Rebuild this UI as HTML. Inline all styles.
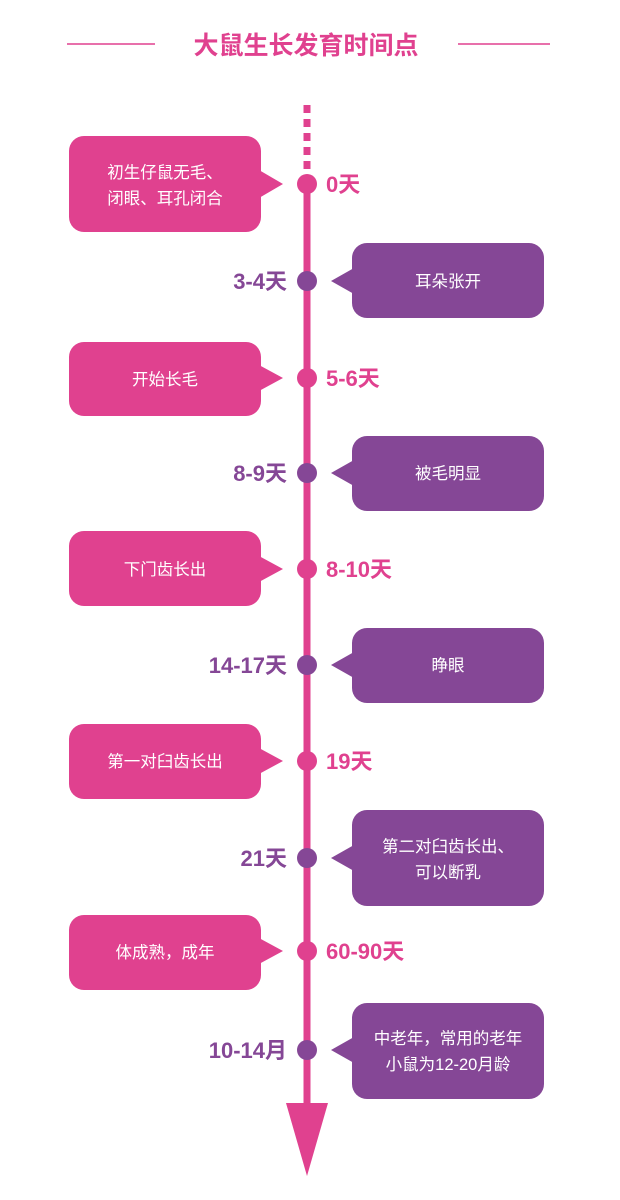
<!DOCTYPE html>
<html><head><meta charset="utf-8"><style>
html,body{margin:0;padding:0;background:#fff;}
svg{display:block;}
text{font-family:"Liberation Sans","Noto Sans CJK SC",sans-serif;}
.bt{fill:#fff;font-size:16.5px;text-anchor:middle;}
.lp{fill:#e0418f;font-size:22px;font-weight:bold;}
.lu{fill:#854796;font-size:22px;font-weight:bold;text-anchor:end;}
</style></head><body>
<svg width="620" height="1200" viewBox="0 0 620 1200" xmlns="http://www.w3.org/2000/svg">
<line x1="67" y1="44" x2="155" y2="44" stroke="#e0418f" stroke-width="1.5"/>
<line x1="458" y1="44" x2="550" y2="44" stroke="#e0418f" stroke-width="1.5"/>
<text x="306" y="54" text-anchor="middle" style="fill:#e0418f;font-size:25px;font-weight:bold;">大鼠生长发育时间点</text>
<line x1="307" y1="105" x2="307" y2="170" stroke="#e0418f" stroke-width="7" stroke-dasharray="8,6"/>
<line x1="307" y1="184" x2="307" y2="1110" stroke="#e0418f" stroke-width="7"/>
<polygon points="286,1103 328,1103 307,1176" fill="#e0418f"/>
<g fill="#e0418f">
<rect x="69" y="136" width="192" height="96" rx="15"/><polygon points="259,170 283,184 259,198"/>
<rect x="69" y="342" width="192" height="74" rx="15"/><polygon points="259,365 283,378 259,391"/>
<rect x="69" y="531" width="192" height="75" rx="15"/><polygon points="259,556 283,569 259,582"/>
<rect x="69" y="724" width="192" height="75" rx="15"/><polygon points="259,748 283,761 259,774"/>
<rect x="69" y="915" width="192" height="75" rx="15"/><polygon points="259,938 283,951 259,964"/>
<circle cx="307" cy="184" r="10"/><circle cx="307" cy="378" r="10"/><circle cx="307" cy="569" r="10"/><circle cx="307" cy="761" r="10"/><circle cx="307" cy="951" r="10"/>
</g>
<g fill="#854796">
<rect x="352" y="243" width="192" height="75" rx="15"/><polygon points="354,268 331,281 354,294"/>
<rect x="352" y="436" width="192" height="75" rx="15"/><polygon points="354,460 331,473 354,486"/>
<rect x="352" y="628" width="192" height="75" rx="15"/><polygon points="354,652 331,665 354,678"/>
<rect x="352" y="810" width="192" height="96" rx="15"/><polygon points="354,845 331,858 354,871"/>
<rect x="352" y="1003" width="192" height="96" rx="15"/><polygon points="354,1037 331,1050 354,1063"/>
<circle cx="307" cy="281" r="10"/><circle cx="307" cy="473" r="10"/><circle cx="307" cy="665" r="10"/><circle cx="307" cy="858" r="10"/><circle cx="307" cy="1050" r="10"/>
</g>
<text class="bt" x="165" y="178">初生仔鼠无毛、</text>
<text class="bt" x="165" y="204">闭眼、耳孔闭合</text>
<text class="bt" x="165" y="385">开始长毛</text>
<text class="bt" x="165" y="575">下门齿长出</text>
<text class="bt" x="165" y="767">第一对臼齿长出</text>
<text class="bt" x="165" y="958">体成熟，成年</text>
<text class="bt" x="448" y="287">耳朵张开</text>
<text class="bt" x="448" y="479">被毛明显</text>
<text class="bt" x="448" y="671">睁眼</text>
<text class="bt" x="448" y="852">第二对臼齿长出、</text>
<text class="bt" x="448" y="878">可以断乳</text>
<text class="bt" x="448" y="1044">中老年，常用的老年</text>
<text class="bt" x="448" y="1070">小鼠为12-20月龄</text>
<text class="lp" x="326" y="192">0天</text>
<text class="lp" x="326" y="386">5-6天</text>
<text class="lp" x="326" y="577">8-10天</text>
<text class="lp" x="326" y="769">19天</text>
<text class="lp" x="326" y="959">60-90天</text>
<text class="lu" x="287" y="289">3-4天</text>
<text class="lu" x="287" y="481">8-9天</text>
<text class="lu" x="287" y="673">14-17天</text>
<text class="lu" x="287" y="866">21天</text>
<text class="lu" x="287" y="1058">10-14月</text>
</svg>
</body></html>
